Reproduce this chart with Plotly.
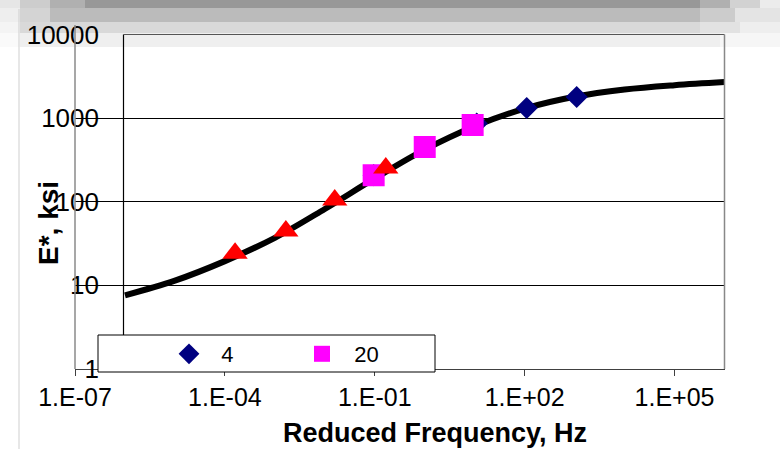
import plotly.graph_objects as go

W, H = 780, 449

# ---------------- data ----------------
curve_freq = [1e-6, 1e-5, 1e-4, 1e-3, 1e-2, 1e-1, 1e0, 1e1, 1e2, 1e3, 1e4, 1e5, 1e6]
curve_E = [7.6, 11.4, 19.5, 37, 82, 190, 420, 800, 1300, 1800, 2200, 2480, 2700]

freq_4 = [0.095, 11.0, 110.0, 1100.0]
E_4 = [208, 860, 1321, 1786]

freq_20 = [0.095, 1.0, 9.1]
E_20 = [208, 451, 826]

freq_40 = [1.6e-4, 1.66e-3, 0.0158, 0.166]
E_40 = [24.3, 44.7, 104.7, 253]

x_tickvals = [1e-7, 1e-4, 1e-1, 1e2, 1e5]
x_ticktext = ["1.E-07", "1.E-04", "1.E-01", "1.E+02", "1.E+05"]
y_tickvals = [1, 10, 100, 1000, 10000]
y_ticktext = ["1", "10", "100", "1000", "10000"]

FONT = "Liberation Sans, Arial, sans-serif"


def px(x):
    return x / W


def py(y):
    return 1 - y / H


fig = go.Figure()

fig.add_trace(go.Scatter(x=curve_freq, y=curve_E, mode="lines", line=dict(color="black", width=6, shape="spline"),
                         showlegend=False, hoverinfo="skip"))
fig.add_trace(go.Scatter(x=freq_4, y=E_4, mode="markers", name="  4",
                         marker=dict(symbol="diamond", size=17, color="#000080")))
fig.add_trace(go.Scatter(x=freq_20, y=E_20, mode="markers", name="  20",
                         marker=dict(symbol="square", size=22, color="#FF00FF")))
fig.add_trace(go.Scatter(x=freq_40, y=E_40, mode="markers", name="40", showlegend=False,
                         marker=dict(symbol="triangle-up", size=22, color="#FF0000")))

shapes = []
# blurred gray band at top (background)
band = [
    (0, 8, [(0, 20, "#e6e6e6"), (20, 50, "#cdcdcd"), (50, 85, "#b0b0b0"), (85, 700, "#989898"),
            (700, 730, "#b0b0b0"), (730, 760, "#d2d2d2"), (760, 780, "#ececec")]),
    (8, 22, [(0, 20, "#eeeeee"), (20, 50, "#d4d4d4"), (50, 700, "#bbbbbb"),
             (700, 735, "#cccccc"), (735, 780, "#e4e4e4")]),
    (22, 33, [(0, 20, "#f4f4f4"), (20, 700, "#d9d9d9"), (700, 740, "#e2e2e2"), (740, 780, "#eeeeee")]),
    (33, 47, [(0, 20, "#fafafa"), (20, 720, "#efefef"), (720, 780, "#f6f6f6")]),
]
for y0, y1, segs in band:
    for x0, x1, c in segs:
        shapes.append(dict(type="rect", xref="paper", yref="paper", x0=px(x0), x1=px(x1), y0=py(y1), y1=py(y0),
                           fillcolor=c, line=dict(width=0), layer="below"))
# left frame line
shapes.append(dict(type="line", xref="paper", yref="paper", x0=px(19), x1=px(19), y0=py(449), y1=py(9),
                   line=dict(color="#cfcfcf", width=1), layer="below"))
# plot box (inner) lines
shapes.append(dict(type="line", xref="paper", yref="paper", x0=px(123.5), x1=px(123.5), y0=py(369), y1=py(34.5),
                   line=dict(color="black", width=1.2), layer="above"))
shapes.append(dict(type="line", xref="paper", yref="paper", x0=px(123.5), x1=px(724.5), y0=py(34.5), y1=py(34.5),
                   line=dict(color="#555555", width=1.2), layer="above"))
shapes.append(dict(type="line", xref="paper", yref="paper", x0=px(724.5), x1=px(724.5), y0=py(369), y1=py(34.5),
                   line=dict(color="#888888", width=1.5), layer="above"))
# gray y-axis line
shapes.append(dict(type="line", xref="paper", yref="paper", x0=px(75), x1=px(75), y0=py(369), y1=py(25),
                   line=dict(color="#8a8a8a", width=1.5), layer="above"))
# legend box
shapes.append(dict(type="rect", xref="paper", yref="paper", x0=px(98), x1=px(435), y0=py(372), y1=py(335),
                   fillcolor="white", line=dict(color="black", width=1), layer="above"))

fig.update_layout(
    width=W, height=H, autosize=False,
    margin=dict(l=0, r=0, t=0, b=0),
    paper_bgcolor="white", plot_bgcolor="rgba(0,0,0,0)",
    font=dict(family=FONT, color="black"),
    shapes=shapes,
    showlegend=True,
    legend=dict(orientation="h", x=px(189 - 20), y=py(354), xanchor="left", yanchor="middle",
                bgcolor="rgba(0,0,0,0)", borderwidth=0, font=dict(size=22, family=FONT),
                entrywidth=88, traceorder="normal"),
    xaxis=dict(type="log", range=[-7, 6], domain=[px(75), px(724.5)], anchor="y",
               tickvals=x_tickvals, ticktext=x_ticktext, tickfont=dict(size=25, family=FONT),
               showgrid=False, zeroline=False, showline=True, linecolor="#404040", linewidth=1,
               ticks="outside", ticklen=6, tickcolor="#404040", automargin=False),
    yaxis=dict(type="log", range=[0, 4], domain=[py(369), py(34.5)], anchor="x",
               tickvals=y_tickvals, ticktext=y_ticktext, tickfont=dict(size=26, family=FONT),
               showgrid=True, gridcolor="black", gridwidth=1, zeroline=False, showline=False,
               ticks="", ticklabelstandoff=-25, automargin=False),
    annotations=[
        dict(text="<b>Reduced Frequency, Hz</b>", xref="paper", yref="paper", x=px(434.5), y=py(433),
             xanchor="center", yanchor="middle", showarrow=False, font=dict(size=27, family=FONT)),
        dict(text="<b>E*, ksi</b>", xref="paper", yref="paper", x=px(48), y=py(223), textangle=-90,
             xanchor="center", yanchor="middle", showarrow=False, font=dict(size=28, family=FONT)),
    ],
)

fig.write_html("out.html", config={"displayModeBar": False},
               post_script="document.body.style.margin='0px';document.body.style.overflow='hidden';")
